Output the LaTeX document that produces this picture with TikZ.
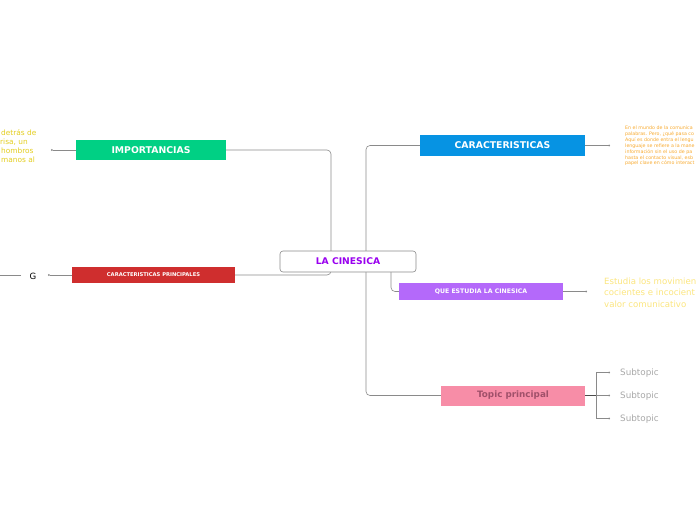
\documentclass[tikz,border=0pt]{standalone}
\usepackage{fontspec}
\setmainfont{DejaVu Sans}
\usetikzlibrary{arrows.meta,backgrounds}
\definecolor{cgreen}{HTML}{00D084}
\definecolor{cblue}{HTML}{0693E3}
\definecolor{cred}{HTML}{CF2E2E}
\definecolor{cpurple}{HTML}{B469FA}
\definecolor{cpink}{HTML}{F78DA7}
\definecolor{cpinktext}{HTML}{A0506A}
\definecolor{cviolet}{HTML}{9900EF}
\definecolor{cyellow}{HTML}{E3CD1E}
\definecolor{cpale}{HTML}{FBE57E}
\definecolor{corange}{HTML}{F7A92E}
\definecolor{cline}{HTML}{8A8A8A}
\definecolor{csub}{HTML}{A8A8A8}
\tikzset{
  topicbox/.style={rectangle, inner sep=0pt, align=center, font=\bfseries, text=white},
  conn/.style={draw=cline, line width=0.6pt, rounded corners=4pt},
  tipconn/.style={draw=cline, line width=0.6pt, -{Circle[length=1.8pt]}},
  note/.style={inner sep=0pt, anchor=west}
}
\begin{document}
\begin{tikzpicture}[x=1pt,y=-1pt]
\useasboundingbox (0,0) rectangle (696,520);
% central
\node[draw=cline, line width=0.6pt, rounded corners=3pt, fill=white, minimum width=136pt, minimum height=21pt, inner sep=0pt, font=\fontsize{9.2}{10}\selectfont\bfseries, text=cviolet] (cen) at (348,261.5) {LA CINESICA};
% main topics
\node[topicbox, fill=cgreen, minimum width=150pt, minimum height=20pt, font=\fontsize{9.3}{10}\selectfont\bfseries] (imp) at (151,150) {IMPORTANCIAS};
\node[topicbox, fill=cblue, minimum width=165pt, minimum height=21pt, font=\fontsize{9.3}{10}\selectfont\bfseries] (car) at (502.5,145.5) {CARACTERISTICAS};
\node[topicbox, fill=cred, minimum width=163pt, minimum height=16pt, font=\fontsize{5.2}{6}\selectfont\bfseries] (cp) at (153.5,275) {CARACTERISTICAS PRINCIPALES};
\node[topicbox, fill=cpurple, minimum width=164pt, minimum height=17pt, font=\fontsize{6.2}{7}\selectfont\bfseries] (que) at (481,291.5) {QUE ESTUDIA LA CINESICA};
\node[topicbox, fill=cpink, text=cpinktext, minimum width=144pt, minimum height=20pt, font=\fontsize{8.8}{10}\selectfont\bfseries] (top) at (513,395.5) {Topic principal};
% coordinates
\coordinate (jq) at (391,261);
\begin{scope}[on background layer]
\draw[conn] (imp.east) -- (331,150) -- (331,275) -- (cp.east);
\draw[conn] (car.west) -- (366,145.5) -- (366,395.5) -- (top.west);
\draw[conn] (jq) -- (391,291.5) -- (que.west);
\end{scope}
% left details
\coordinate (impend) at (51,150);
\draw[tipconn] (imp.west) -- (impend);
\node[inner sep=1pt, font=\fontsize{8.6}{9}\selectfont] (g) at (33,276) {G};
\coordinate (cpend) at (48,275);
\draw[tipconn] (cp.west) -- (cpend);
\coordinate (gl) at (0,275);
\coordinate (gr) at (21,275);
\draw[draw=cline, line width=0.6pt] (gr) -- (gl);
\begin{scope}[font=\fontsize{7.4}{8}\selectfont, text=cyellow]
\node[note] (l1) at (1,132.5) {detrás de};
\node[note] (l2) at (0,141.8) {risa, un};
\node[note] (l3) at (1,151.2) {hombros};
\node[note] (l4) at (1,159.8) {manos al};
\end{scope}
% right details
\coordinate (carend) at (610,145.5);
\draw[tipconn] (car.east) -- (carend);
\begin{scope}[font=\fontsize{4.75}{6}\selectfont, text=corange]
\node[note] (o1) at (625,128) {En el mundo de la comunica};
\node[note] (o2) at (625,133.9) {palabras. Pero, ¿qué pasa co};
\node[note] (o3) at (625,139.8) {Aquí es donde entra el lengu};
\node[note] (o4) at (625,145.7) {lenguaje se refiere a la mane};
\node[note] (o5) at (625,151.6) {información sin el uso de pa};
\node[note] (o6) at (625,157.5) {hasta el contacto visual, esb};
\node[note] (o7) at (625,163.4) {papel clave en cómo interact};
\end{scope}
\coordinate (queend) at (587,291.5);
\draw[tipconn] (que.east) -- (queend);
\begin{scope}[font=\fontsize{8.6}{10}\selectfont, text=cpale]
\node[note] (y1) at (604,281.5) {Estudia los movimien};
\node[note] (y2) at (604,292.7) {cocientes e incocient};
\node[note] (y3) at (604,303.8) {valor comunicativo};
\end{scope}
% subtopics
\coordinate (br) at (596,395.5);
\draw[draw=black!70, line width=0.8pt] (top.east) -- (br);
\coordinate (s1e) at (610,372.5);
\coordinate (s2e) at (610,395.5);
\coordinate (s3e) at (610,418.5);
\draw[tipconn] (br) -- (596,372.5) -- (s1e);
\draw[tipconn] (br) -- (s2e);
\draw[tipconn] (br) -- (596,418.5) -- (s3e);
\begin{scope}[font=\fontsize{8.8}{9}\selectfont, text=csub]
\node[note] (s1) at (620,373) {Subtopic};
\node[note] (s2) at (620,396) {Subtopic};
\node[note] (s3) at (620,419) {Subtopic};
\end{scope}
\end{tikzpicture}
\end{document}
